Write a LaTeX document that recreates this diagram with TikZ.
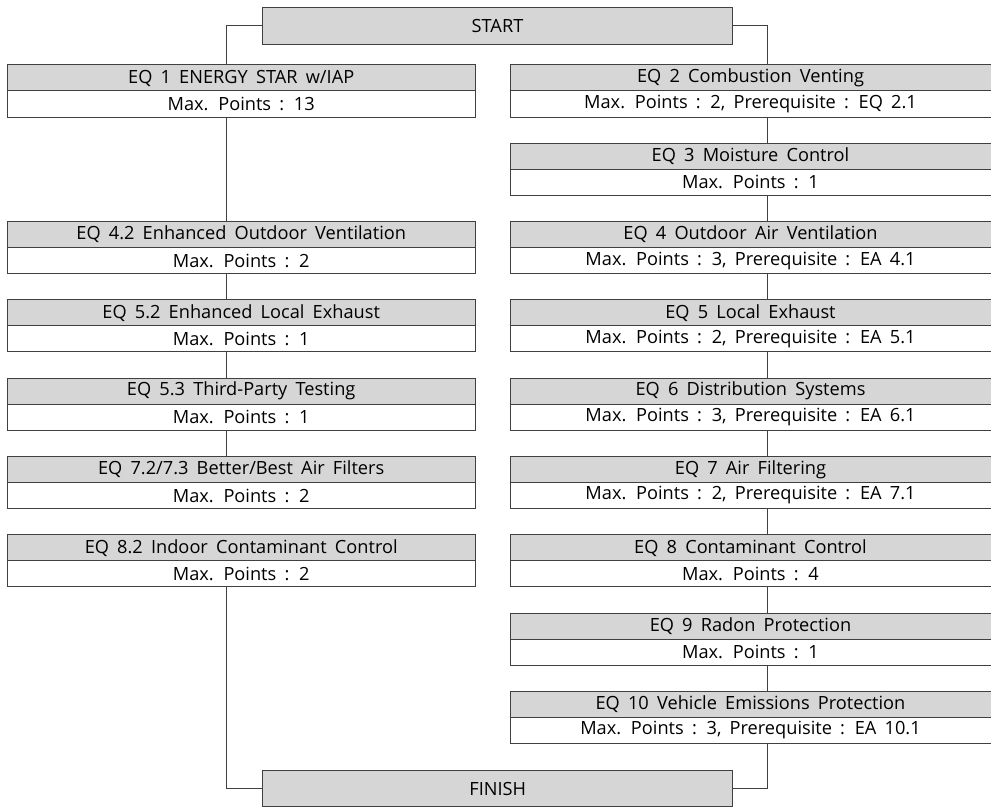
\documentclass[tikz,border=0pt]{standalone}
\usepackage{fontspec}
\setmainfont{Open Sans}
\usetikzlibrary{positioning}
\definecolor{boxgray}{RGB}{214,214,214}
\definecolor{linegray}{RGB}{64,64,64}
\newcommand{\boxfont}{\fontsize{18.2}{20}\selectfont\spaceskip=0.45em plus 0.1em}

\begin{document}
\begin{tikzpicture}[x=1pt, y=1pt, node distance=26.3pt,
	cell/.style={draw=linegray, line width=1pt, inner sep=0pt, outer sep=0pt, minimum height=26pt, font=\boxfont},
	headbox/.style={cell, fill=boxgray},
	ptsbox/.style={cell, fill=white},
	lcol/.style={minimum width=467.7pt},
	rcol/.style={minimum width=481pt},
	endbox/.style={cell, fill=boxgray, minimum width=470.4pt, minimum height=36.7pt},
	link/.style={draw=linegray, line width=0.8pt}]
	\useasboundingbox (0,0) rectangle (991,-808);

	\node[endbox] (start) at (497.5,-25.7) {START};

	% left column
	\node[headbox, lcol] (eq1) at (241.2,-78)             {EQ 1 ENERGY STAR w/IAP};
	\node[ptsbox, lcol] (eq1p) [below=0pt of eq1]         {Max. Points : 13};
	\node[headbox, lcol] (eq42) [below=104.6pt of eq1p]   {EQ 4.2 Enhanced Outdoor Ventilation};
	\node[ptsbox, lcol] (eq42p) [below=0pt of eq42]       {Max. Points : 2};
	\node[headbox, lcol] (eq52) [below=of eq42p]          {EQ 5.2 Enhanced Local Exhaust};
	\node[ptsbox, lcol] (eq52p) [below=0pt of eq52]       {Max. Points : 1};
	\node[headbox, lcol] (eq53) [below=of eq52p]          {EQ 5.3 Third-Party Testing};
	\node[ptsbox, lcol] (eq53p) [below=0pt of eq53]       {Max. Points : 1};
	\node[headbox, lcol] (eq72) [below=of eq53p]          {EQ 7.2/7.3 Better/Best Air Filters};
	\node[ptsbox, lcol] (eq72p) [below=0pt of eq72]       {Max. Points : 2};
	\node[headbox, lcol] (eq82) [below=of eq72p]          {EQ 8.2 Indoor Contaminant Control};
	\node[ptsbox, lcol] (eq82p) [below=0pt of eq82]       {Max. Points : 2};

	% right column
	\node[headbox, rcol] (eq2) at (750.5,-78)             {EQ 2 Combustion Venting};
	\node[ptsbox, rcol] (eq2p) [below=0pt of eq2]         {Max. Points : 2, Prerequisite : EQ 2.1};
	\node[headbox, rcol] (eq3) [below=of eq2p]            {EQ 3 Moisture Control};
	\node[ptsbox, rcol] (eq3p) [below=0pt of eq3]         {Max. Points : 1};
	\node[headbox, rcol] (eq4) [below=of eq3p]            {EQ 4 Outdoor Air Ventilation};
	\node[ptsbox, rcol] (eq4p) [below=0pt of eq4]         {Max. Points : 3, Prerequisite : EA 4.1};
	\node[headbox, rcol] (eq5) [below=of eq4p]            {EQ 5 Local Exhaust};
	\node[ptsbox, rcol] (eq5p) [below=0pt of eq5]         {Max. Points : 2, Prerequisite : EA 5.1};
	\node[headbox, rcol] (eq6) [below=of eq5p]            {EQ 6 Distribution Systems};
	\node[ptsbox, rcol] (eq6p) [below=0pt of eq6]         {Max. Points : 3, Prerequisite : EA 6.1};
	\node[headbox, rcol] (eq7) [below=of eq6p]            {EQ 7 Air Filtering};
	\node[ptsbox, rcol] (eq7p) [below=0pt of eq7]         {Max. Points : 2, Prerequisite : EA 7.1};
	\node[headbox, rcol] (eq8) [below=of eq7p]            {EQ 8 Contaminant Control};
	\node[ptsbox, rcol] (eq8p) [below=0pt of eq8]         {Max. Points : 4};
	\node[headbox, rcol] (eq9) [below=of eq8p]            {EQ 9 Radon Protection};
	\node[ptsbox, rcol] (eq9p) [below=0pt of eq9]         {Max. Points : 1};
	\node[headbox, rcol] (eq10) [below=of eq9p]           {EQ 10 Vehicle Emissions Protection};
	\node[ptsbox, rcol] (eq10p) [below=0pt of eq10]       {Max. Points : 3, Prerequisite : EA 10.1};

	\node[endbox] (finish) at (497.7,-788.5) {FINISH};

	% connectors
	\coordinate (lx) at (226,0);
	\coordinate (rx) at (767.7,0);
	\draw[link] (start.west) -| (lx |- eq1.north);
	\draw[link] (start.east) -| (rx |- eq2.north);
	\foreach \a/\b in {eq1p/eq42, eq42p/eq52, eq52p/eq53, eq53p/eq72}
		\draw[link] (lx |- \a.south) -- (lx |- \b.north);
	\foreach \a/\b in {eq2p/eq3, eq3p/eq4, eq4p/eq5, eq5p/eq6, eq6p/eq7, eq7p/eq8, eq8p/eq9, eq9p/eq10}
		\draw[link] (rx |- \a.south) -- (rx |- \b.north);
	\draw[link] (lx |- eq82p.south) |- (finish.west);
	\draw[link] (rx |- eq10p.south) |- (finish.east);
\end{tikzpicture}
\end{document}
